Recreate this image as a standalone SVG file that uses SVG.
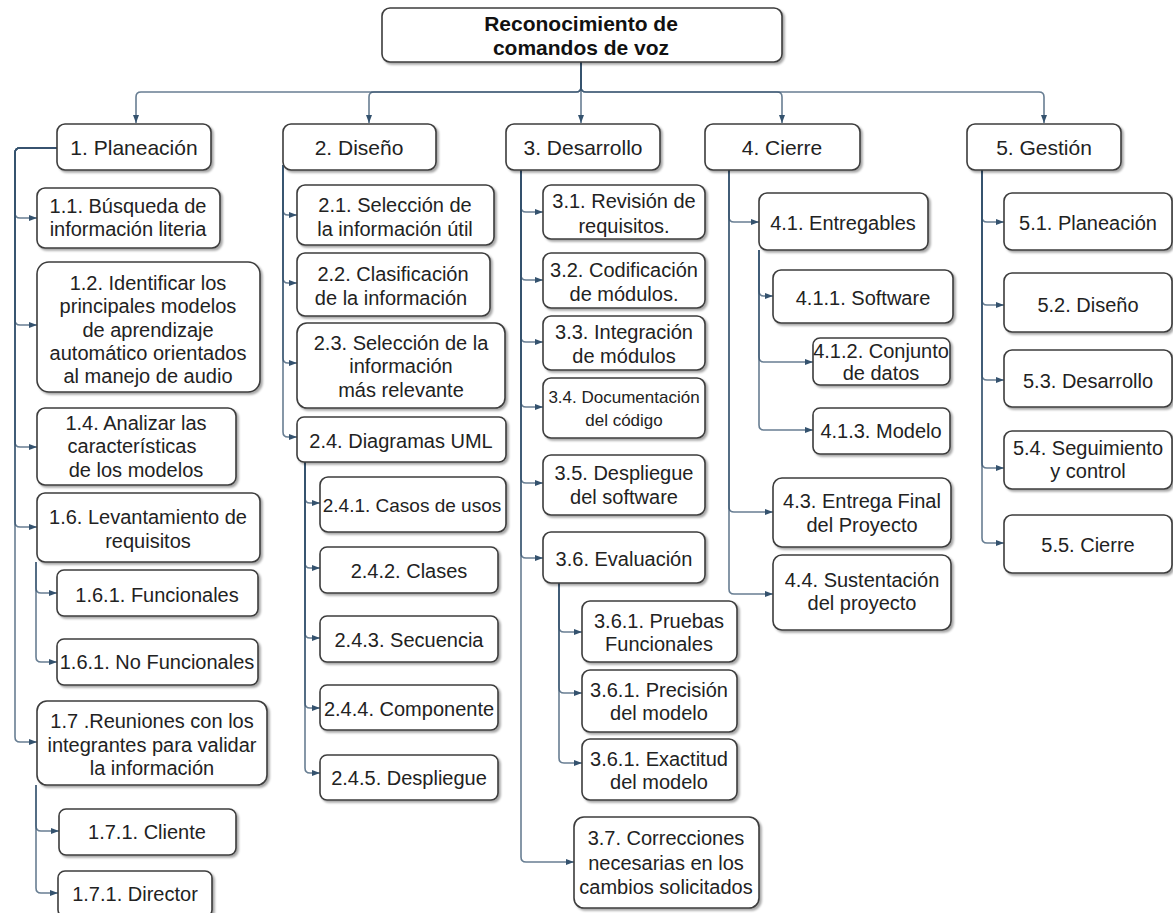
<svg xmlns="http://www.w3.org/2000/svg" width="1173" height="913" viewBox="0 0 1173 913">
  <defs>
    <filter id="sh" x="-10%" y="-10%" width="120%" height="130%">
      <feDropShadow dx="2" dy="2" stdDeviation="1.2" flood-color="#000" flood-opacity="0.35"/>
    </filter>
    <marker id="arr" viewBox="0 0 8 6" refX="8" refY="3" markerWidth="8" markerHeight="6" markerUnits="userSpaceOnUse" orient="auto">
      <path d="M0,0 L8,3 L0,6 z" fill="#34526e"/>
    </marker>
  </defs>
  <style>
    .node rect { fill: #ffffff; stroke: #3c3c3c; stroke-width: 1.6; filter: url(#sh); }
    .node text { font-family: "Liberation Sans", Arial, sans-serif; font-size: 20px; fill: #222222; text-anchor: middle; }
    .lvl1 text { font-size: 21px; }
    .root text { font-size: 21px; font-weight: bold; fill: #111111; }
    .wire { fill: none; stroke: #34526e; stroke-width: 1.6; stroke-opacity: 0.75; marker-end: url(#arr); }
  </style>
  <rect width="1173" height="913" fill="#ffffff"/>

  <g id="connectors">
    <!-- root to phases -->
    <path class="wire" d="M581,62 V87 Q581,92 576,92 H141 Q136,92 136,97 V123"/>
    <path class="wire" d="M581,62 V87 Q581,92 576,92 H374 Q369,92 369,97 V123"/>
    <path class="wire" d="M581,62 V123"/>
    <path class="wire" d="M581,62 V87 Q581,92 586,92 H777 Q782,92 782,97 V123"/>
    <path class="wire" d="M581,62 V87 Q581,92 586,92 H1039 Q1044,92 1044,97 V123"/>

    <!-- 1. Planeación -->
    <path class="wire" d="M57,148 H20 Q15,148 15,153 V213 Q15,218 20,218 H37"/>
    <path class="wire" d="M57,148 H20 Q15,148 15,153 V320 Q15,325 20,325 H37"/>
    <path class="wire" d="M57,148 H20 Q15,148 15,153 V442 Q15,447 20,447 H37"/>
    <path class="wire" d="M57,148 H20 Q15,148 15,153 V522 Q15,527 20,527 H37"/>
    <path class="wire" d="M57,148 H20 Q15,148 15,153 V737 Q15,742 20,742 H37"/>
    <path class="wire" d="M36,562 V588 Q36,593 41,593 H57"/>
    <path class="wire" d="M36,562 V657 Q36,662 41,662 H57"/>
    <path class="wire" d="M36,785 V826 Q36,831 41,831 H59"/>
    <path class="wire" d="M36,785 V888 Q36,893 41,893 H58"/>

    <!-- 2. Diseño -->
    <path class="wire" d="M283,165 V210 Q283,215 288,215 H297"/>
    <path class="wire" d="M283,165 V278 Q283,283 288,283 H297"/>
    <path class="wire" d="M283,165 V358 Q283,363 288,363 H297"/>
    <path class="wire" d="M283,165 V432 Q283,437 288,437 H297"/>
    <path class="wire" d="M305,462 V498 Q305,503 310,503 H320"/>
    <path class="wire" d="M305,462 V563 Q305,568 310,568 H320"/>
    <path class="wire" d="M305,462 V633 Q305,638 310,638 H320"/>
    <path class="wire" d="M305,462 V703 Q305,708 310,708 H320"/>
    <path class="wire" d="M305,462 V768 Q305,773 310,773 H320"/>

    <!-- 3. Desarrollo -->
    <path class="wire" d="M521,170 V207 Q521,212 526,212 H543"/>
    <path class="wire" d="M521,170 V275 Q521,280 526,280 H543"/>
    <path class="wire" d="M521,170 V337 Q521,342 526,342 H543"/>
    <path class="wire" d="M521,170 V402 Q521,407 526,407 H543"/>
    <path class="wire" d="M521,170 V478 Q521,483 526,483 H543"/>
    <path class="wire" d="M521,170 V553 Q521,558 526,558 H543"/>
    <path class="wire" d="M521,170 V857 Q521,862 526,862 H574"/>
    <path class="wire" d="M559,583 V627 Q559,632 564,632 H582"/>
    <path class="wire" d="M559,583 V688 Q559,693 564,693 H582"/>
    <path class="wire" d="M559,583 V758 Q559,763 564,763 H582"/>

    <!-- 4. Cierre -->
    <path class="wire" d="M729,170 V217 Q729,222 734,222 H759"/>
    <path class="wire" d="M729,170 V507 Q729,512 734,512 H773"/>
    <path class="wire" d="M729,170 V589 Q729,594 734,594 H773"/>
    <path class="wire" d="M759,250 V291 Q759,296 764,296 H773"/>
    <path class="wire" d="M759,250 V357 Q759,362 764,362 H813"/>
    <path class="wire" d="M759,250 V425 Q759,430 764,430 H813"/>

    <!-- 5. Gestión -->
    <path class="wire" d="M982,170 V217 Q982,222 987,222 H1004"/>
    <path class="wire" d="M982,170 V300 Q982,305 987,305 H1004"/>
    <path class="wire" d="M982,170 V375 Q982,380 987,380 H1004"/>
    <path class="wire" d="M982,170 V463 Q982,468 987,468 H1004"/>
    <path class="wire" d="M982,170 V538 Q982,543 987,543 H1004"/>
  </g>

  <!-- root -->
  <g id="root" class="node root">
    <rect x="382" y="8" width="400" height="54" rx="8"/>
    <text x="581" y="31">Reconocimiento de</text>
    <text x="581" y="55">comandos de voz</text>
  </g>

  <!-- phases -->
  <g id="n1" class="node lvl1"><rect x="57" y="124" width="154" height="46" rx="8"/><text x="134" y="155">1. Planeación</text></g>
  <g id="n2" class="node lvl1"><rect x="283" y="124" width="153" height="46" rx="8"/><text x="359" y="155">2. Diseño</text></g>
  <g id="n3" class="node lvl1"><rect x="506" y="124" width="154" height="46" rx="8"/><text x="583" y="155">3. Desarrollo</text></g>
  <g id="n4" class="node lvl1"><rect x="705" y="124" width="155" height="46" rx="8"/><text x="782" y="155">4. Cierre</text></g>
  <g id="n5" class="node lvl1"><rect x="967" y="124" width="154" height="46" rx="8"/><text x="1044" y="155">5. Gestión</text></g>

  <!-- 1. Planeación -->
  <g id="n1-1" class="node"><rect x="37" y="188" width="183" height="60" rx="8"/><text x="128" y="213">1.1. Búsqueda de</text><text x="128" y="236">información literia</text></g>
  <g id="n1-2" class="node"><rect x="37" y="262" width="223" height="130" rx="12"/>
    <text x="148" y="290">1.2. Identificar los</text>
    <text x="148" y="313">principales modelos</text>
    <text x="148" y="337">de aprendizaje</text>
    <text x="148" y="360">automático orientados</text>
    <text x="148" y="383">al manejo de audio</text></g>
  <g id="n1-4" class="node"><rect x="37" y="408" width="199" height="77" rx="8"/>
    <text x="136" y="430">1.4. Analizar las</text>
    <text x="132" y="453">características</text>
    <text x="136" y="477">de los modelos</text></g>
  <g id="n1-6" class="node"><rect x="37" y="493" width="223" height="69" rx="8"/>
    <text x="148" y="524">1.6. Levantamiento de</text>
    <text x="148" y="548">requisitos</text></g>
  <g id="n1-6-1" class="node"><rect x="57" y="570" width="201" height="46" rx="7"/><text x="157" y="602">1.6.1. Funcionales</text></g>
  <g id="n1-6-2" class="node"><rect x="57" y="639" width="201" height="46" rx="7"/><text x="157" y="669">1.6.1. No Funcionales</text></g>
  <g id="n1-7" class="node"><rect x="37" y="701" width="230" height="84" rx="10"/>
    <text x="152" y="728">1.7 .Reuniones con los</text>
    <text x="152" y="752">integrantes para validar</text>
    <text x="152" y="775">la información</text></g>
  <g id="n1-7-1" class="node"><rect x="59" y="809" width="177" height="46" rx="7"/><text x="147" y="839">1.7.1. Cliente</text></g>
  <g id="n1-7-2" class="node"><rect x="58" y="871" width="154" height="46" rx="7"/><text x="135" y="901">1.7.1. Director</text></g>

  <!-- 2. Diseño -->
  <g id="n2-1" class="node"><rect x="297" y="185" width="197" height="60" rx="8"/><text x="395" y="212">2.1. Selección de</text><text x="395" y="236">la información útil</text></g>
  <g id="n2-2" class="node"><rect x="297" y="253" width="193" height="63" rx="8"/><text x="393" y="281">2.2. Clasificación</text><text x="391" y="305">de la información</text></g>
  <g id="n2-3" class="node"><rect x="297" y="323" width="208" height="85" rx="10"/>
    <text x="401" y="350">2.3. Selección de la</text>
    <text x="401" y="373">información</text>
    <text x="401" y="397">más relevante</text></g>
  <g id="n2-4" class="node"><rect x="297" y="417" width="209" height="45" rx="7"/><text x="401" y="448">2.4. Diagramas UML</text></g>
  <g id="n2-4-1" class="node"><rect x="320" y="477" width="186" height="55" rx="8"/><text x="412" y="512" style="font-size:19px">2.4.1. Casos de usos</text></g>
  <g id="n2-4-2" class="node"><rect x="320" y="547" width="178" height="46" rx="7"/><text x="409" y="578">2.4.2. Clases</text></g>
  <g id="n2-4-3" class="node"><rect x="320" y="616" width="178" height="46" rx="7"/><text x="409" y="647">2.4.3. Secuencia</text></g>
  <g id="n2-4-4" class="node"><rect x="320" y="685" width="178" height="45" rx="7"/><text x="409" y="716">2.4.4. Componente</text></g>
  <g id="n2-4-5" class="node"><rect x="320" y="755" width="178" height="45" rx="7"/><text x="409" y="785">2.4.5. Despliegue</text></g>

  <!-- 3. Desarrollo -->
  <g id="n3-1" class="node"><rect x="543" y="185" width="162" height="54" rx="8"/><text x="624" y="208">3.1. Revisión de</text><text x="624" y="233">requisitos.</text></g>
  <g id="n3-2" class="node"><rect x="543" y="253" width="162" height="55" rx="8"/><text x="624" y="277">3.2. Codificación</text><text x="624" y="301">de módulos.</text></g>
  <g id="n3-3" class="node"><rect x="543" y="316" width="162" height="54" rx="8"/><text x="624" y="339">3.3. Integración</text><text x="624" y="363">de módulos</text></g>
  <g id="n3-4" class="node"><rect x="543" y="378" width="162" height="60" rx="8"/><text x="624" y="403" style="font-size:17px">3.4. Documentación</text><text x="624" y="426" style="font-size:17px">del código</text></g>
  <g id="n3-5" class="node"><rect x="543" y="455" width="162" height="60" rx="8"/><text x="624" y="480">3.5. Despliegue</text><text x="624" y="504">del software</text></g>
  <g id="n3-6" class="node"><rect x="543" y="532" width="162" height="51" rx="8"/><text x="624" y="566">3.6. Evaluación</text></g>
  <g id="n3-6-1" class="node"><rect x="582" y="601" width="155" height="61" rx="8"/><text x="659" y="628">3.6.1. Pruebas</text><text x="659" y="651">Funcionales</text></g>
  <g id="n3-6-2" class="node"><rect x="582" y="670" width="155" height="62" rx="8"/><text x="659" y="697">3.6.1. Precisión</text><text x="659" y="720">del modelo</text></g>
  <g id="n3-6-3" class="node"><rect x="582" y="739" width="155" height="61" rx="8"/><text x="659" y="766">3.6.1. Exactitud</text><text x="659" y="789">del modelo</text></g>
  <g id="n3-7" class="node"><rect x="574" y="817" width="185" height="91" rx="10"/>
    <text x="666" y="845">3.7. Correcciones</text>
    <text x="666" y="870">necesarias en los</text>
    <text x="666" y="894">cambios solicitados</text></g>

  <!-- 4. Cierre -->
  <g id="n4-1" class="node"><rect x="759" y="193" width="169" height="57" rx="8"/><text x="843" y="230">4.1. Entregables</text></g>
  <g id="n4-1-1" class="node"><rect x="773" y="270" width="180" height="53" rx="8"/><text x="863" y="305">4.1.1. Software</text></g>
  <g id="n4-1-2" class="node"><rect x="813" y="338" width="137" height="47" rx="7"/><text x="881" y="358">4.1.2. Conjunto</text><text x="881" y="380">de datos</text></g>
  <g id="n4-1-3" class="node"><rect x="813" y="408" width="137" height="46" rx="7"/><text x="881" y="438">4.1.3. Modelo</text></g>
  <g id="n4-3" class="node"><rect x="773" y="478" width="178" height="69" rx="9"/><text x="862" y="508">4.3. Entrega Final</text><text x="862" y="532">del Proyecto</text></g>
  <g id="n4-4" class="node"><rect x="773" y="555" width="178" height="75" rx="9"/><text x="862" y="587">4.4. Sustentación</text><text x="862" y="610">del proyecto</text></g>

  <!-- 5. Gestión -->
  <g id="n5-1" class="node"><rect x="1004" y="193" width="168" height="57" rx="8"/><text x="1088" y="230">5.1. Planeación</text></g>
  <g id="n5-2" class="node"><rect x="1004" y="273" width="168" height="59" rx="8"/><text x="1088" y="312">5.2. Diseño</text></g>
  <g id="n5-3" class="node"><rect x="1004" y="350" width="168" height="57" rx="8"/><text x="1088" y="388">5.3. Desarrollo</text></g>
  <g id="n5-4" class="node"><rect x="1004" y="431" width="168" height="58" rx="8"/><text x="1088" y="455">5.4. Seguimiento</text><text x="1088" y="478">y control</text></g>
  <g id="n5-5" class="node"><rect x="1004" y="515" width="168" height="58" rx="8"/><text x="1088" y="552">5.5. Cierre</text></g>
</svg>
